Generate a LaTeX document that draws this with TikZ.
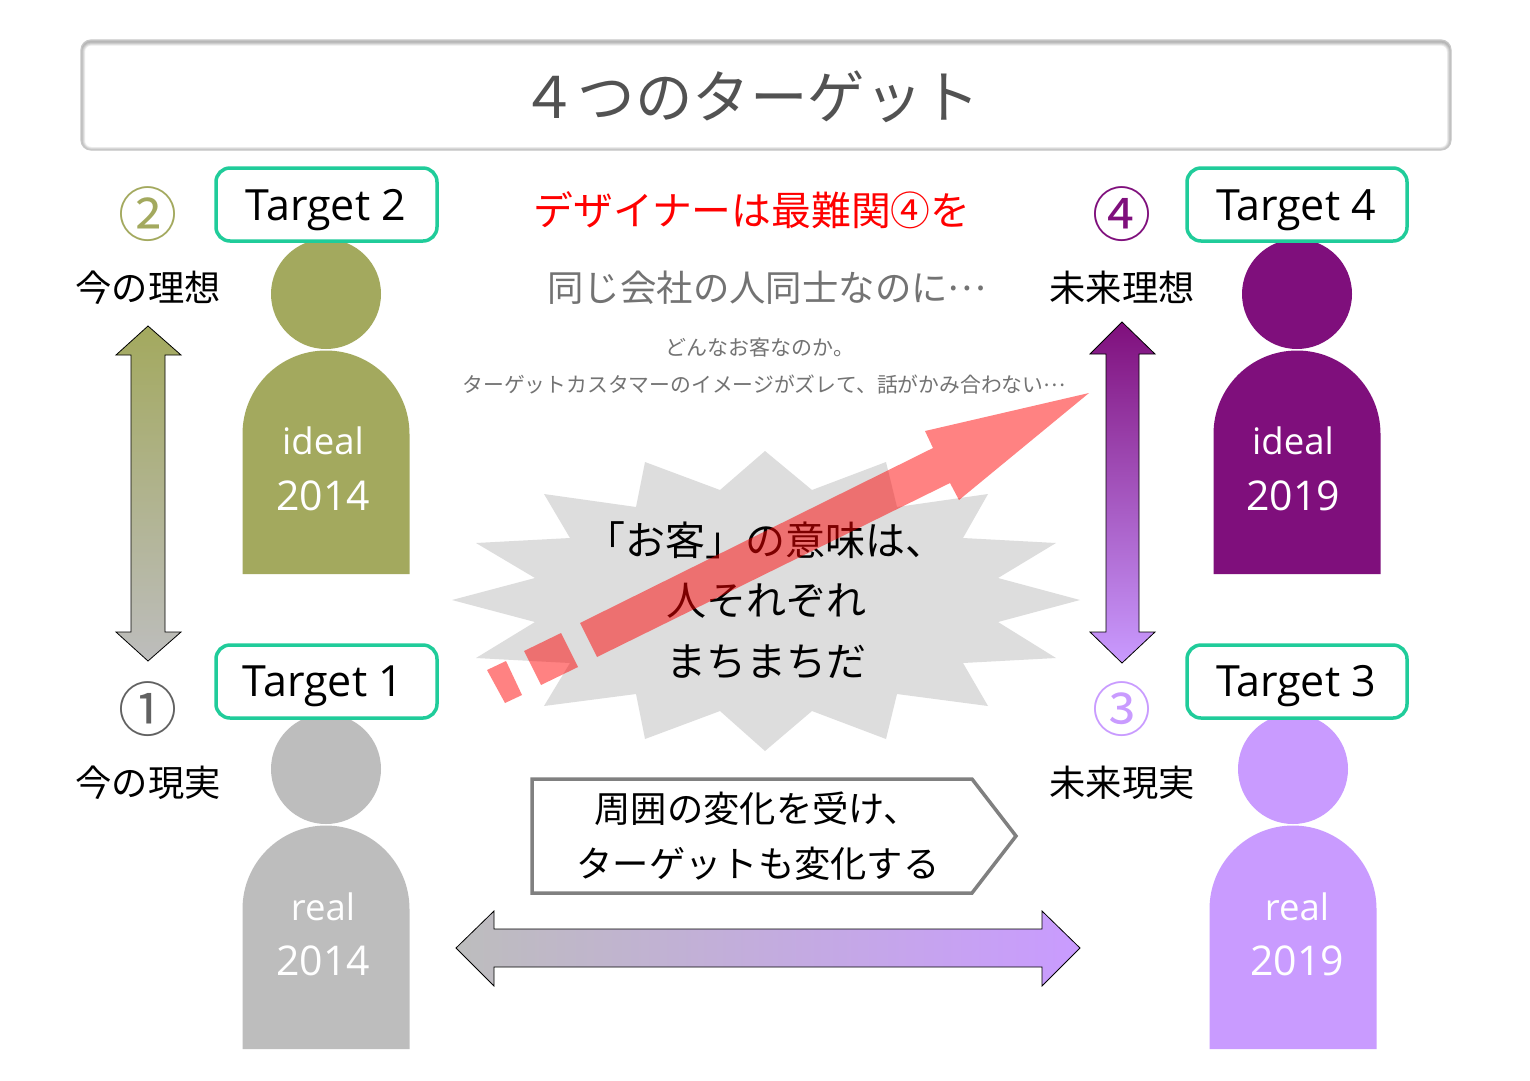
\documentclass[tikz,border=0pt]{standalone}
\usepackage{fontspec}
\setmainfont{Noto Sans CJK JP}
\newfontfamily\latinf{Open Sans}
\usetikzlibrary{shapes.geometric}
\definecolor{olivec}{HTML}{A3A95E}
\definecolor{grayc}{HTML}{BDBDBD}
\definecolor{purplec}{HTML}{7F0F7C}
\definecolor{lavc}{HTML}{C99BFF}
\definecolor{tealc}{HTML}{20CC9A}
\definecolor{burstc}{HTML}{DDDDDD}
\newcommand{\fs}[1]{\fontsize{#1}{#1}\selectfont}
\newcommand{\fe}{\raisebox{.3em}{…}}
\tikzset{
  txt/.style={inner sep=0pt,outer sep=0pt,anchor=center,execute at begin node={\rule{0pt}{.86em}\rule[-.14em]{0pt}{.14em}}},
  lbl/.style={txt,font=\fs{36.3}},
  whitetxt/.style={txt,font=\latinf\fs{41},text=white},
  whiteword/.style={txt,font=\latinf\fs{36.5},text=white},
  num/.style={txt,font=\fs{59}},
  targetbox/.style={draw=tealc,line width=3.5pt,rounded corners=14pt,fill=white},
  targettxt/.style={txt,font=\latinf\fs{43},text=black},
  garrow/.style={draw=black,line width=0.8pt,line join=miter},
  redpart/.style={fill={rgb,255:red,255;green,0;blue,0},fill opacity=.49,draw=none},
}
\begin{document}
\begin{tikzpicture}[x=1pt,y=-1pt]
\useasboundingbox (0,0) rectangle (1530,1080);
\fill[white] (0,0) rectangle (1530,1080);
% title
\fill[white,rounded corners=10pt] (81,40) rectangle (1451,150);
\begin{scope}
\clip[rounded corners=10pt] (81,40) rectangle (1451,150);
\foreach \w in {8,6,4,2}{\draw[black,opacity=.08,line width=\w pt,rounded corners=10pt] (81,41.5) rectangle (1451,151);}
\end{scope}
\draw[black!22,line width=1.2pt,rounded corners=10pt] (81,40) rectangle (1451,150);
\node[txt,font=\fs{57.5},text=black!68] (title) at (750,98) {４つのターゲット};
% persons
\foreach \cx/\cy/\col in {326/294/olivec,1297/294/purplec,326/769/grayc,1293/769/lavc}{
  \fill[\col] (\cx,\cy) circle (55pt);
  \fill[\col] (\cx-83.5,\cy+140) arc[start angle=180,end angle=0,radius=83.5pt] -- (\cx+83.5,\cy+280) -- (\cx-83.5,\cy+280) -- cycle;
}
\node[whiteword] (i1) at (323,441) {ideal};
\node[whitetxt] (y1) at (323,496) {2014};
\node[whiteword] (i2) at (1293,441) {ideal};
\node[whitetxt] (y2) at (1293,496) {2019};
\node[whiteword] (r1) at (323,907) {real};
\node[whitetxt] (y3) at (323,961) {2014};
\node[whiteword] (r2) at (1297,907) {real};
\node[whitetxt] (y4) at (1297,961) {2019};
% target boxes
\draw[targetbox] (216,168) rectangle (437,241);
\draw[targetbox] (1187,168) rectangle (1407,241);
\draw[targetbox] (216,645) rectangle (437,718);
\draw[targetbox] (1187,645) rectangle (1407,718);
\node[targettxt] (t2) at (326,207) {Target 2};
\node[targettxt] (t4) at (1296,207) {Target 4};
\node[targettxt] (t1) at (323,683) {Target 1};
\node[targettxt] (t3) at (1296,683) {Target 3};
% circled numbers
\node[num,text=olivec] (n2) at (148,215) {②};
\node[num,text=purplec] (n4) at (1122,215) {④};
\node[num,text=black!62] (n1) at (148,710) {①};
\node[num,text=lavc] (n3) at (1122,710) {③};
% side labels
\node[lbl] (a2) at (148,288) {今の理想};
\node[lbl] (a4) at (1122,288) {未来理想};
\node[lbl] (a1) at (148,783) {今の現実};
\node[lbl] (a3) at (1122,783) {未来現実};
% vertical arrows
\path[garrow,top color=olivec,bottom color=grayc]
 (148,326) -- (181,355) -- (165,355) -- (165,632) -- (181,632) -- (148,661) -- (116,632) -- (131,632) -- (131,355) -- (116,355) -- cycle;
\path[garrow,top color=purplec,bottom color=lavc]
 (1122,322) -- (1155,354) -- (1139,354) -- (1139,632) -- (1155,632) -- (1122,663) -- (1090,632) -- (1106,632) -- (1106,354) -- (1090,354) -- cycle;
% horizontal arrow
\path[garrow,left color=grayc,right color=lavc]
 (456,948) -- (494,911) -- (494,929) -- (1042,929) -- (1042,911) -- (1080,948) -- (1042,986) -- (1042,967) -- (494,967) -- (494,986) -- cycle;
% centre text
\node[txt,font=\fs{39.8},text=red] (red) at (752,211) {デザイナーは最難関④を};
\node[txt,font=\fs{36.4},text=black!55] (same) at (767,288) {同じ会社の人同士なのに\fe};
\node[txt,font=\fs{21},text=black!55] (s1) at (760,348) {どんなお客なのか。};
\node[txt,font=\fs{20.8},text=black!55] (s2) at (764,385) {ターゲットカスタマーのイメージがズレて、話がかみ合わない\fe};
% burst
\fill[burstc] (765,451) -- (812,490) -- (886,462) -- (897,507) -- (988,494) -- (963,538) -- (1056,543) -- (998,578) -- (1080,600) -- (998,622) -- (1056,658) -- (963,663) -- (988,706) -- (897,694) -- (886,739) -- (812,711) -- (765,751) -- (720,711) -- (645,739) -- (636,694) -- (544,706) -- (570,663) -- (476,658) -- (535,622) -- (452,600) -- (535,578) -- (476,543) -- (570,538) -- (544,494) -- (636,507) -- (645,462) -- (720,490) -- cycle;
\node[txt,font=\fs{40}] (b1) at (765,541) {「お客」の意味は、};
\node[txt,font=\fs{40}] (b2) at (766,601) {人それぞれ};
\node[txt,font=\fs{40}] (b3) at (766,662) {まちまちだ};
% red arrow
\fill[redpart] (1089,393) -- (925,431) -- (933,448) -- (580,623) -- (597,657) -- (950,483) -- (959,500) -- cycle;
\fill[redpart] (561,633) -- (578,667) -- (541,685) -- (524,651) -- cycle;
\fill[redpart] (506,661) -- (522,695) -- (505,703) -- (487,670) -- cycle;
% pentagon
\draw[draw=black!50,line width=3.5pt,fill=white,line join=miter] (532,779) -- (972,779) -- (1016,836) -- (972,893) -- (532,893) -- cycle;
\node[lbl] (p1) at (757,809) {周囲の変化を受け、};
\node[lbl] (p2) at (758,864) {ターゲットも変化する};
\end{tikzpicture}
\end{document}
